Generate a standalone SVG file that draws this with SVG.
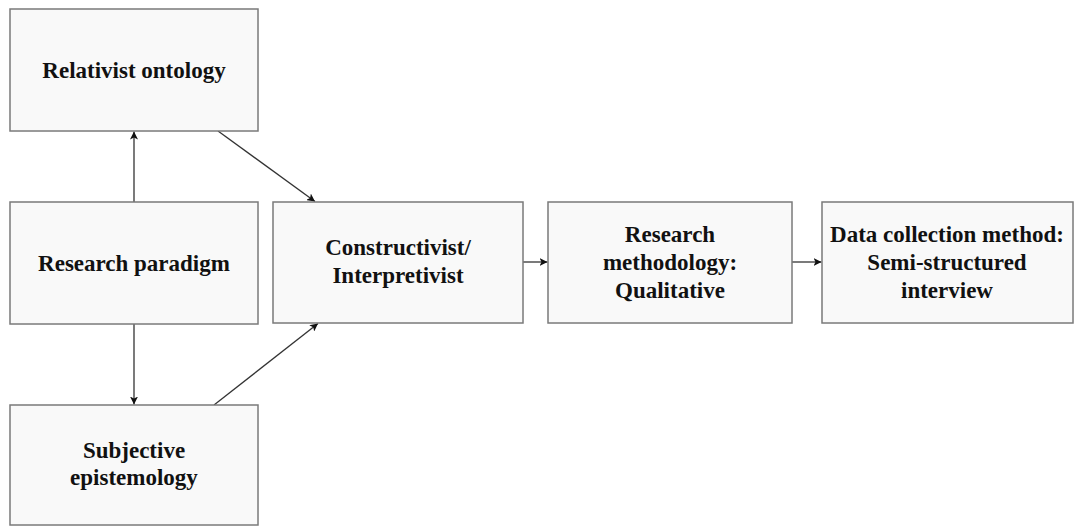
<svg xmlns="http://www.w3.org/2000/svg" width="1074" height="527" viewBox="0 0 1074 527">
<style>
.box{fill:#f9f9f9;stroke:#7a7a7a;stroke-width:1.5}
.t{font-family:"Liberation Serif","Times New Roman",serif;font-weight:bold;font-size:23px;fill:#111;text-anchor:middle}
.c{stroke:#333;stroke-width:1.3;fill:none;marker-end:url(#ah)}
</style>
<defs>
<marker id="ah" viewBox="0 0 10 10" refX="10" refY="5" markerWidth="8" markerHeight="8" markerUnits="userSpaceOnUse" orient="auto">
<path d="M0,0 L10,5 L0,10 L2.5,5 Z" fill="#111"/>
</marker>
</defs>
<rect width="1074" height="527" fill="#fff"/>
<g id="connectors">
<line class="c" x1="134" y1="202" x2="134" y2="131.5"/>
<line class="c" x1="134" y1="324" x2="134" y2="404.5"/>
<line class="c" x1="218" y1="131" x2="315" y2="201.5"/>
<line class="c" x1="214" y1="405" x2="318" y2="323.5"/>
<line class="c" x1="523" y1="262" x2="547.5" y2="262"/>
<line class="c" x1="792" y1="262" x2="821.5" y2="262"/>
</g>
<g id="relativist">
<rect class="box" x="10" y="9" width="248" height="122"/>
<text class="t" x="134" y="78">Relativist ontology</text>
</g>
<g id="paradigm">
<rect class="box" x="10" y="202" width="248" height="122"/>
<text class="t" x="134" y="271">Research paradigm</text>
</g>
<g id="subjective">
<rect class="box" x="10" y="405" width="248" height="120"/>
<text class="t" x="134" y="458">Subjective</text>
<text class="t" x="134" y="485">epistemology</text>
</g>
<g id="constructivist">
<rect class="box" x="273" y="202" width="250" height="121"/>
<text class="t" x="398" y="255">Constructivist/</text>
<text class="t" x="398" y="283">Interpretivist</text>
</g>
<g id="methodology">
<rect class="box" x="548" y="202" width="244" height="121"/>
<text class="t" x="670" y="242">Research</text>
<text class="t" x="670" y="270">methodology:</text>
<text class="t" x="670" y="298">Qualitative</text>
</g>
<g id="datacollection">
<rect class="box" x="822" y="202" width="251" height="121"/>
<text class="t" x="947" y="242">Data collection method:</text>
<text class="t" x="947" y="270">Semi-structured</text>
<text class="t" x="947" y="298">interview</text>
</g>
</svg>
